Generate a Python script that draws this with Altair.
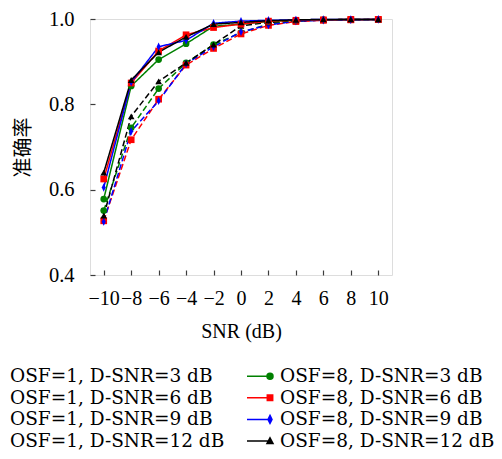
import altair as alt
import pandas as pd

snr = [-10, -8, -6, -4, -2, 0, 2, 4, 6, 8, 10]

# OSF=1 (dashed)
osf1_d3 = [0.551, 0.745, 0.837, 0.897, 0.940, 0.968, 0.988, 0.995, 0.998, 0.999, 0.999]
osf1_d6 = [0.527, 0.717, 0.812, 0.892, 0.931, 0.965, 0.985, 0.994, 0.997, 0.998, 0.999]
osf1_d9 = [0.525, 0.737, 0.808, 0.895, 0.935, 0.970, 0.986, 0.995, 0.997, 0.998, 0.999]
osf1_d12 = [0.539, 0.772, 0.854, 0.897, 0.940, 0.984, 0.992, 0.996, 0.998, 0.999, 0.999]
# OSF=8 (solid)
osf8_d3 = [0.578, 0.843, 0.905, 0.942, 0.983, 0.988, 0.994, 0.997, 0.998, 0.999, 0.999]
osf8_d6 = [0.625, 0.850, 0.925, 0.963, 0.980, 0.988, 0.995, 0.997, 0.998, 0.999, 0.999]
osf8_d9 = [0.605, 0.852, 0.935, 0.950, 0.990, 0.995, 0.997, 0.998, 0.999, 0.999, 0.999]
osf8_d12 = [0.640, 0.857, 0.922, 0.958, 0.988, 0.992, 0.996, 0.998, 0.999, 0.999, 0.999]

series = [
    ("1", "3", osf1_d3), ("1", "6", osf1_d6), ("1", "9", osf1_d9), ("1", "12", osf1_d12),
    ("8", "3", osf8_d3), ("8", "6", osf8_d6), ("8", "9", osf8_d9), ("8", "12", osf8_d12),
]

dsnr_levels = ["3", "6", "9", "12"]
dsnr_colors = ["#008000", "#ff0000", "#0000ff", "#000000"]
thin_diamond = "M0,-1.25L0.6,0L0,1.25L-0.6,0Z"
dsnr_shapes = ["circle", "square", thin_diamond, "triangle-up"]

rows = []
for osf, d, vals in series:
    lab = f"OSF={osf}, D-SNR={d} dB"
    for s, v in zip(snr, vals):
        rows.append(dict(snr=s, acc=v, osf=osf, dsnr=d, lab=lab, ser=f"{osf}-{d}"))
df = pd.DataFrame(rows)

ln = "M-1.1,0L1.2,0"
leg_marker = {
    "3": ln + "M1.5,0A0.3,0.3,0,1,1,0.9,0A0.3,0.3,0,1,1,1.5,0Z",
    "6": ln + "M0.93,-0.27L1.47,-0.27L1.47,0.27L0.93,0.27Z",
    "9": ln + "M1.2,-0.4L1.4,0L1.2,0.4L1.0,0Z",
    "12": ln + "M1.2,-0.33L1.5,0.24L0.9,0.24Z",
}

# legend entries, column-major: left column OSF=1, right column OSF=8
legend_order, legend_colors, legend_shapes = [], [], []
for osf in ["1", "8"]:
    for d, c in zip(dsnr_levels, dsnr_colors):
        legend_order.append(f"OSF={osf}, D-SNR={d} dB")
        legend_colors.append(c)
        legend_shapes.append(leg_marker[d])

SERIF = "Liberation Serif"
LEG_FONT = "DejaVu Serif"
FRAME = "#3c3c3c"

x_enc = alt.X(
    "snr:Q",
    scale=alt.Scale(domain=[-11, 11], nice=False, zero=False),
    axis=alt.Axis(
        values=snr, offset=-5, domain=False, tickSize=5, tickColor=FRAME, tickWidth=1.2,
        grid=False, labelFont=SERIF, labelFontSize=20, labelColor="black",
        labelPadding=13, labelOverlap=False, labelFlush=False, labelBound=False,
        title="SNR (dB)", titleFont=SERIF, titleFontSize=20, titleFontWeight="normal",
        titleColor="black", titlePadding=13,
    ),
)
y_enc = alt.Y(
    "acc:Q",
    scale=alt.Scale(domain=[0.4, 1.0], nice=False, zero=False),
    axis=alt.Axis(
        values=[0.4, 0.6, 0.8, 1.0], format=".1f", offset=-5, domain=False, tickSize=5,
        tickColor=FRAME, tickWidth=1.2, grid=False, labelFont=SERIF, labelFontSize=20.5,
        labelColor="black", labelPadding=16, labelFlush=False, labelBound=False,
        title="准确率", titleFont="Noto Sans CJK SC", titleFontSize=20,
        titleFontWeight="normal", titleColor="black", titlePadding=15,
    ),
)

base = alt.Chart(df)

lines = base.mark_line(strokeWidth=1.5).encode(
    x=x_enc, y=y_enc,
    color=alt.Color("dsnr:N", scale=alt.Scale(domain=dsnr_levels, range=dsnr_colors), legend=None),
    strokeDash=alt.StrokeDash("osf:N", scale=alt.Scale(domain=["1", "8"], range=[[6, 3], [1, 0]]), legend=None),
    detail="ser:N",
    order="snr:Q",
)

points = base.mark_point(filled=True, size=45, opacity=1).encode(
    x=x_enc, y=y_enc,
    color=alt.Color("dsnr:N", scale=alt.Scale(domain=dsnr_levels, range=dsnr_colors), legend=None),
    shape=alt.Shape("dsnr:N", scale=alt.Scale(domain=dsnr_levels, range=dsnr_shapes), legend=None),
)

leg = alt.Legend(
    orient="none", legendX=-113, legendY=346, columns=2, title=None,
    labelFont=LEG_FONT, labelFontSize=18.5, labelColor="black", labelOffset=11, labelLimit=400,
    symbolSize=400, symbolStrokeWidth=1.5, columnPadding=19, rowPadding=0.7,
    padding=0,
)

legend_layer = base.transform_filter("false").mark_point(filled=True, opacity=1).encode(
    x=x_enc, y=y_enc,
    fill=alt.Fill("lab:N", scale=alt.Scale(domain=legend_order, range=legend_colors), legend=leg),
    stroke=alt.Stroke("lab:N", scale=alt.Scale(domain=legend_order, range=legend_colors), legend=leg),
    shape=alt.Shape("lab:N", scale=alt.Scale(domain=legend_order, range=legend_shapes), legend=leg),
)

chart = (
    alt.layer(lines, points, legend_layer)
    .resolve_scale(shape="independent", fill="independent", stroke="independent")
    .properties(
        width=302, height=256,
        autosize=alt.AutoSizeParams(type="none"),
        padding={"left": 82, "top": 11, "right": 102, "bottom": 176},
    )
    .configure_view(stroke=FRAME, strokeWidth=1.3)
    .configure(background="white")
)

chart.save("out.html", embed_options={"renderer": "svg", "actions": False})
